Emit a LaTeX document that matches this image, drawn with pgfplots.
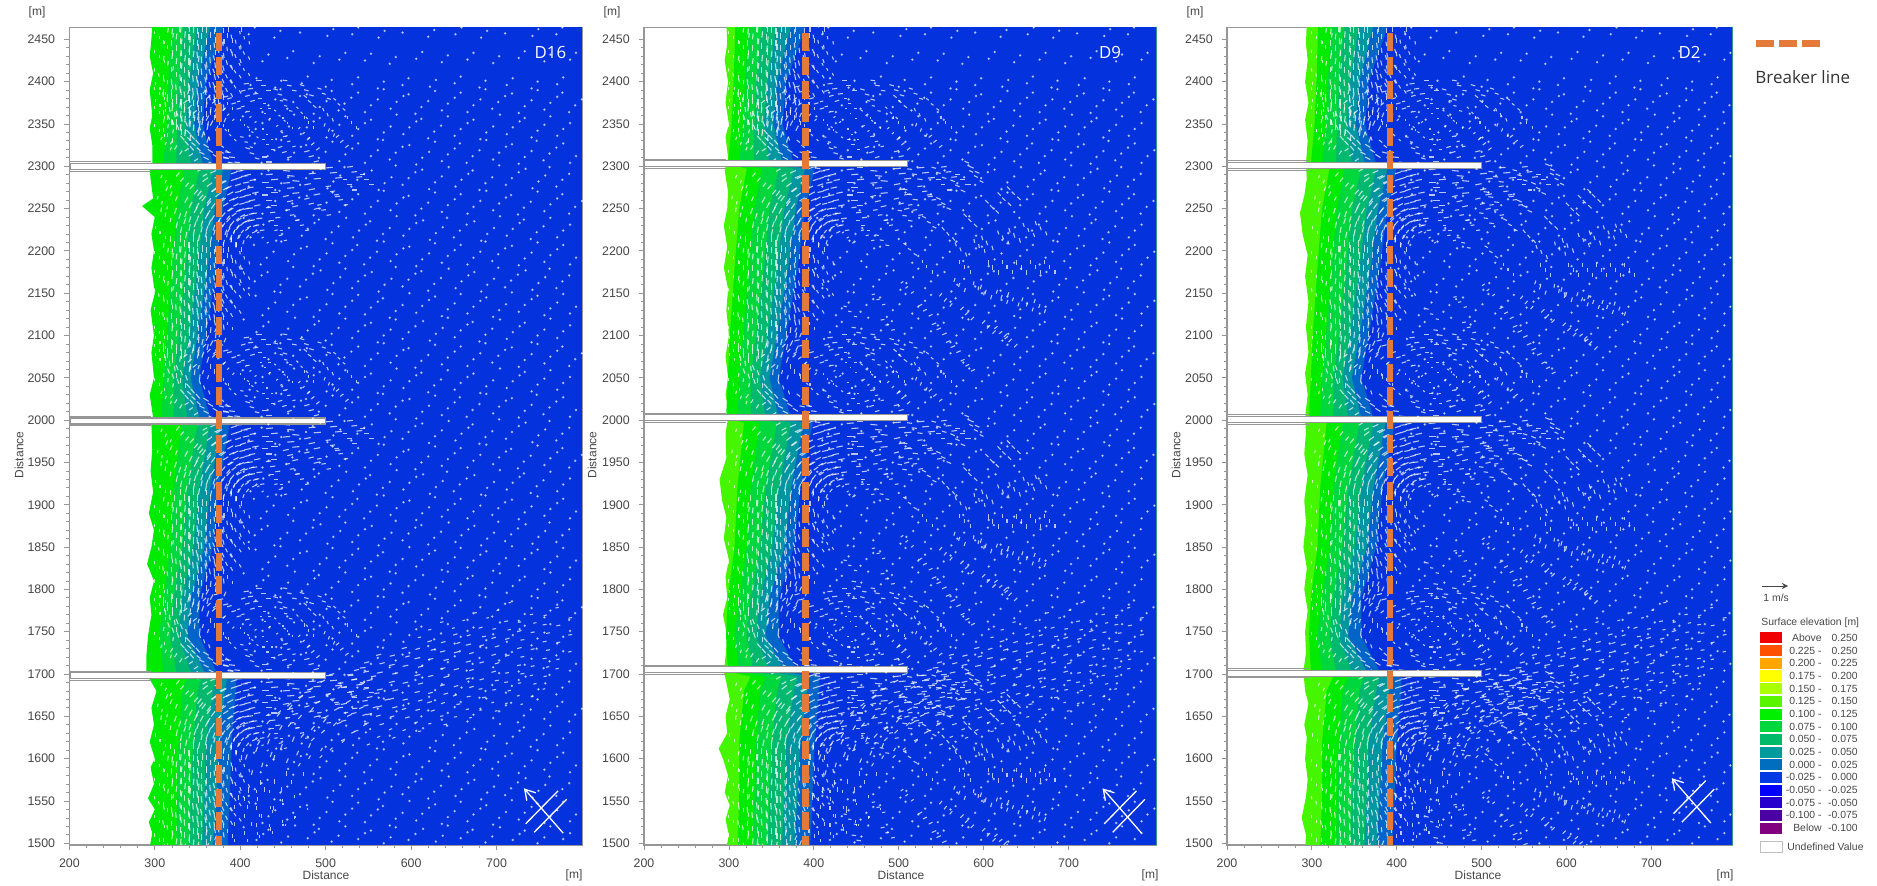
\documentclass[border=0pt]{standalone}
\usepackage{pgfplots}
\usepackage{pgfplotstable}
\usepackage{fontspec}
\usetikzlibrary{arrows.meta}
\setmainfont{Liberation Sans}
\newfontfamily\labelf{Open Sans}
\pgfplotsset{compat=1.18}
\definecolor{c100}{RGB}{0,235,0}
\definecolor{c125}{RGB}{70,245,0}
\definecolor{c075}{RGB}{0,215,60}
\definecolor{c050}{RGB}{0,185,110}
\definecolor{c025}{RGB}{0,150,160}
\definecolor{c000}{RGB}{0,100,200}
\definecolor{sea}{RGB}{4,50,220}
\definecolor{brk}{RGB}{228,122,58}
\definecolor{txt}{RGB}{70,70,70}
\definecolor{axg}{RGB}{150,150,150}
\pgfplotstableread{
y b0 b1 b2 b3 b4 b5
1490 900 900 900 900 900 900
1490 308 325 340 355 368 385
1560 310 326 342 358 372 388
1620 310 328 345 360 375 390
1680 315 332 350 368 382 395
1697 322 338 355 372 385 395
1703 298 310 325 342 358 372
1745 296 305 318 328 338 352
1790 298 310 322 332 342 352
1850 305 318 332 345 358 368
1920 308 322 338 352 365 375
1997 315 332 350 365 378 388
2003 296 308 322 338 352 365
2050 298 310 322 332 342 352
2100 300 314 328 340 350 360
2180 305 320 336 350 362 372
2250 310 326 342 358 370 380
2297 318 334 352 368 380 390
2303 298 310 325 342 356 368
2350 302 314 326 336 346 356
2400 304 316 328 340 350 360
2470 306 320 334 350 366 382
2470 900 900 900 900 900 900
}\bands
% flow below a groyne, y relative to the groyne
\pgfplotstableread{
x y u v
335 -95 0 10
340 -66 3 9
355 -41 6 8
377 -21 9 5
405 -11 10 2
430 -10 11 1
455 -11 11 -1
480 -9 11 1
505 -8 11 1
530 -7 9 1
350 -95 0 10
354 -71 3 9
366 -50 6 8
385 -34 9 5
408 -26 10 2
430 -25 11 0
455 -26 11 1
480 -28 10 2
505 -30 8 1
365 -95 0 9
368 -76 3 9
378 -60 6 7
392 -47 8 4
410 -41 10 2
430 -40 10 0
455 -42 9 2
480 -45 8 2
380 -95 0 8
382 -81 3 8
389 -69 5 6
400 -60 7 4
413 -56 9 1
435 -55 8 1
458 -58 7 1
323 -95 0 9
328 -62 3 9
346 -33 6 7
370 -14 9 4
395 -6 10 1
395 -95 0 7
397 -86 2 6
401 -79 4 5
408 -73 6 3
417 -70 7 1
440 -70 6 0
330 -79 2 10
340 -49 5 9
361 -24 8 6
389 -9 9 3
345 -82 2 10
353 -56 5 9
371 -36 8 6
394 -23 9 3
359 -84 2 9
366 -64 5 8
380 -47 8 5
399 -37 9 2
374 -87 2 8
379 -72 4 7
390 -59 7 5
404 -51 8 2
389 -90 1 7
392 -79 3 6
400 -70 5 4
409 -65 7 2
312 -60 1 7
318 -35 3 7
330 -18 5 6
350 -6 7 4
306 -80 0 5
308 -45 1 5
312 -20 2 5
425 -85 3 2
445 -82 5 1
470 -70 6 1
495 -52 7 1
515 -40 7 1
525 -22 7 0
545 -16 8 0
305 -110 0 5
305 -132 0 5
305 -154 -1 5
305 -176 0 5
305 -198 0 5
305 -220 0 5
315 -102 1 7
315 -122 0 7
315 -141 1 7
315 -163 0 7
315 -184 -1 7
315 -205 0 7
315 -226 0 7
325 -110 1 9
325 -124 0 9
325 -139 1 9
325 -155 0 9
325 -170 -1 9
325 -186 0 9
325 -201 1 9
325 -217 0 9
335 -108 1 10
335 -122 0 10
335 -136 1 10
335 -150 0 10
335 -165 -1 10
335 -179 -1 10
335 -194 0 10
335 -208 1 10
335 -224 1 10
345 -103 0 10
345 -117 0 10
345 -131 1 10
345 -146 0 10
345 -160 -1 10
345 -175 -1 10
345 -189 0 10
345 -203 1 10
345 -218 1 10
355 -110 0 10
355 -124 0 10
355 -138 -1 10
355 -152 -1 10
355 -167 -2 10
355 -181 -1 10
355 -196 0 10
355 -211 2 9
355 -226 3 9
365 -108 0 9
365 -123 0 9
365 -138 -1 9
365 -152 -2 9
365 -167 -2 9
365 -182 -2 9
365 -197 1 9
365 -212 4 8
375 -110 0 8
375 -126 -1 8
375 -141 -2 8
375 -156 -3 7
375 -172 -3 7
375 -187 -1 8
375 -202 3 7
385 -108 0 7
385 -124 -1 7
385 -140 -2 7
385 -156 -3 6
385 -172 -3 6
385 -188 0 6
395 -115 -1 6
395 -132 -2 6
395 -150 -3 5
395 -168 -3 5
405 -110 -1 5
405 -128 -2 5
405 -147 -2 4
}\below
% flow above a groyne: recirculation cell
\pgfplotstableread{
x y u v
530 50 0 5
517 72 -4 3
480 89 -7 2
430 95 -8 0
380 89 -8 -2
343 72 -6 -5
330 50 0 -8
343 28 6 -5
380 11 8 -2
430 5 9 0
480 11 8 2
517 28 5 4
503 59 -2 5
483 75 -5 4
449 84 -7 2
411 84 -7 -2
377 75 -5 -4
357 59 -2 -6
357 41 2 -6
377 25 5 -4
411 16 7 -2
449 16 7 2
483 25 5 4
503 41 2 5
480 50 0 5
473 62 -3 3
455 71 -5 1
430 74 -5 0
405 71 -5 -1
387 62 -3 -3
380 50 0 -5
387 38 3 -3
405 29 5 -1
430 26 5 0
455 29 5 1
473 38 3 3
455 50 0 3
447 59 -3 2
430 62 -3 0
413 59 -3 -2
405 50 0 -3
413 41 3 -2
430 38 3 0
447 41 3 2
315 85 0 -9
320 55 3 -8
335 30 6 -7
357 11 8 -4
385 4 9 -1
325 85 0 -9
330 59 3 -8
342 37 6 -7
362 20 8 -5
387 11 9 -1
305 40 0 5
306 70 0 5
306 90 0 5
312 25 2 5
315 45 1 6
323 20 4 6
335 70 -1 -9
345 85 -2 -8
347 60 -1 -9
340 12 6 4
317 70 1 -8
365 84 -5 -5
370 60 0 -7
395 75 -7 -2
415 92 -8 -1
460 95 -7 1
500 85 -6 2
}\above
% wider cells of the D9 and D2 runs
\pgfplotstableread{
x y u v
494 -12 8 -1
540 -25 7 -3
577 -49 5 -5
602 -82 2 -7
610 -120 0 -7
602 -158 -2 -6
577 -191 -5 -5
540 -215 -7 -3
489 -36 8 -1
525 -46 7 -3
554 -65 5 -5
573 -91 2 -7
580 -120 0 -7
573 -149 -2 -7
554 -175 -5 -5
525 -194 -7 -3
555 -3 7 -3
600 -33 5 -5
630 -74 2 -6
640 -120 0 -6
630 -166 -2 -6
600 -207 -5 -5
555 -237 -6 -3
484 -61 7 -1
510 -68 6 -3
531 -81 4 -5
545 -99 2 -6
550 -120 0 -6
545 -141 -2 -6
531 -159 -4 -5
510 -172 -6 -3
520 -10 7 -2
560 -14 6 -3
590 -40 5 -5
617 -76 2 -6
625 -120 0 -6
617 -164 -2 -6
590 -198 -5 -4
565 -95 1 -6
565 -145 -1 -6
595 -120 0 -6
590 -85 2 -6
590 -155 -2 -6
460 -90 6 -1
490 -100 5 -3
510 -120 0 -5
490 -145 -4 -3
460 -160 -5 -1
430 -175 -5 1
470 -190 -6 -1
440 -200 -7 1
}\bigcell
% jet off the southern groyne, absolute position
\pgfplotstableread{
x y u v
440 1570 0 8
447 1611 3 8
468 1647 5 6
500 1674 7 4
539 1688 8 1
460 1570 0 7
466 1604 3 7
483 1634 5 6
510 1657 7 4
543 1668 8 1
410 1560 0 8
418 1608 3 8
443 1650 5 6
480 1681 7 4
526 1698 9 1
425 1530 0 6
425 1590 2 7
432 1625 4 7
455 1662 6 5
490 1690 8 2
480 1600 3 5
495 1630 5 5
525 1650 7 3
555 1660 7 2
505 1610 4 4
530 1630 6 3
405 1510 0 6
405 1530 0 6
405 1550 0 6
420 1510 0 5
420 1550 0 6
435 1515 0 5
435 1540 0 5
450 1520 0 4
450 1545 0 4
465 1530 0 3
530 1693 9 2
560 1701 9 2
590 1709 9 2
620 1717 8 2
650 1725 8 2
680 1733 7 2
710 1741 7 2
740 1749 6 1
770 1757 6 1
530 1673 9 2
560 1681 9 2
590 1689 9 2
620 1697 8 2
650 1705 8 2
680 1713 7 2
710 1721 7 2
740 1729 6 1
770 1737 6 1
530 1653 8 2
560 1661 8 2
590 1669 8 2
620 1677 7 2
650 1685 7 2
680 1693 7 2
710 1701 6 1
740 1709 6 1
770 1717 5 1
545 1641 7 2
575 1649 7 2
605 1657 7 2
635 1665 6 2
665 1673 6 1
695 1681 6 1
725 1689 5 1
755 1697 5 1
560 1625 5 2
590 1633 5 2
620 1641 5 1
650 1649 5 1
680 1657 4 1
710 1665 4 1
740 1673 4 1
545 1713 8 2
575 1721 8 2
605 1729 7 2
635 1737 7 2
665 1745 6 2
695 1753 6 1
725 1761 5 1
755 1769 5 1
620 1752 5 1
660 1763 4 1
700 1775 4 1
}\jet
\pgfplotstableread{
x y
412 6
441 3
472 8
500 4
531 7
561 2
590 6
622 4
651 8
680 3
712 6
741 2
771 7
426 34
455 38
486 32
516 36
546 35
575 31
606 37
636 33
666 36
696 32
726 38
756 34
786 36
410 66
440 62
470 68
502 64
531 66
562 62
590 68
620 63
652 66
682 62
710 67
742 64
770 66
424 94
456 98
486 92
516 96
545 94
576 98
606 92
636 96
666 94
695 98
726 93
756 97
786 94
412 126
442 122
472 128
500 124
532 126
560 122
591 128
622 123
650 126
682 122
712 128
740 124
771 126
426 154
454 158
486 152
516 156
546 154
576 158
605 152
636 156
666 154
696 158
725 153
756 157
785 154
410 186
441 182
470 188
502 184
530 186
562 182
590 188
621 183
652 186
680 182
711 188
742 184
770 186
425 214
456 218
485 212
516 216
546 214
575 218
606 212
636 216
665 214
696 218
726 213
755 217
786 214
411 246
442 242
471 248
501 244
531 246
561 242
591 248
620 243
651 246
681 242
712 248
741 244
771 246
426 274
455 278
486 272
515 276
546 274
576 278
605 272
636 276
666 274
695 278
726 273
756 277
785 274
}\seadots
\pgfplotsset{fieldst/.style={white,opacity=.72,line width=.55pt,forget plot}}
\newcommand{\fldo}[4]{\addplot[fieldst,quiver={u=0.75*\thisrow{u},v=0.75*\thisrow{v}}] table[x expr={300+(\thisrow{x}+#3-300)*\fct},y expr={\thisrow{y}+#2+#4}]{#1};}
\newcommand{\fld}[2]{\fldo{#1}{#2}{0}{0}\fldo{#1}{#2}{6}{-6}\fldo{#1}{#2}{-5}{6}}
\newcommand{\band}[2]{\addplot[fill=#2,draw=none,forget plot] table[x expr={290+(\thisrow{#1}-290)*\fct},y=y]{\bands};}
\newcommand{\dts}[2]{\addplot[only marks,mark=*,mark size=.42pt,white,opacity=.5,mark options={draw=none,fill=white},forget plot] table[x expr={\thisrow{x}+#1},y expr={\thisrow{y}+#2}]{\seadots};}
\newcommand{\dtsq}[1]{\dts{0}{#1}\dts{15}{#1+15}\dts{7}{#1+8}\dts{-8}{#1+23}}
\newcommand{\allbands}{\band{b1}{c075}\band{b2}{c050}\band{b3}{c025}\band{b4}{c000}\band{b5}{sea}}
\newcommand{\jetp}[2]{\addplot[fieldst,quiver={u=0.75*\thisrow{u},v=0.75*\thisrow{v}}] table[x expr={\thisrow{x}+#1},y expr={\thisrow{y}+#2}]{\jet};}
\newcommand{\allfield}{%
\dtsq{1490}\dtsq{1790}\dtsq{2090}\dts{0}{2390}\dts{7}{2398}%
\fld{\below}{1700}\fld{\below}{2000}\fld{\below}{2300}\fld{\below}{2560}%
\fld{\above}{1700}\fld{\above}{2000}\fld{\above}{2300}%
\jetp{0}{0}\jetp{14}{9}\jetp{-12}{-9}}
\newcommand{\groyne}[2]{%
\addplot[fill=white,draw=axg,line width=.6pt,forget plot] coordinates {(201,#1-3.6)(#2,#1-3.6)(#2,#1+3.6)(201,#1+3.6)} -- cycle;
\addplot[draw=axg,line width=.4pt,forget plot] coordinates {(201,#1-5.5)(296,#1-5.5)};
\addplot[draw=axg,line width=.4pt,forget plot] coordinates {(201,#1+5.5)(296,#1+5.5)};}
\newcommand{\breaker}[1]{\addplot[brk,line width=3.4pt,dash pattern=on 9pt off 2.8pt,forget plot] coordinates {(#1,2457)(#1,1498)};}
\newcommand{\wave}[2]{%
\addplot[white,line width=.65pt,-{Straight Barb[length=5pt,width=6pt]},forget plot] coordinates {(778+#1,1512+#2)(732+#1,1565+#2)};
\addplot[white,line width=.65pt,forget plot] coordinates {(734+#1,1523+#2)(772+#1,1562+#2)};
\addplot[white,line width=.65pt,forget plot] coordinates {(744+#1,1513+#2)(782+#1,1552+#2)};}
\newcommand{\tickf}{\fontsize{6.2}{7}\selectfont\color{txt}}
\pgfplotsset{panel/.style={
 anchor=south west,scale only axis,height=408.75pt,
 xmin=200,ymin=1498,ymax=2464,
 xtick={200,300,...,700},ytick={1500,1550,...,2450},
 minor x tick num=4,minor y tick num=4,
 xtick pos=bottom,ytick pos=left,tick align=outside,
 major tick length=2.6pt,minor tick length=1.5pt,
 every tick/.style={axg,line width=.4pt},
 axis line style={axg,line width=.7pt},
 tick label style={font=\tickf},
 xticklabel style={yshift=-1pt},
 yticklabel style={xshift=-1pt},
 /pgf/number format/assume math mode=true,
 /pgf/number format/1000 sep={},
}}
\begin{document}
\begin{tikzpicture}
\path (0,0) rectangle (938.5pt,443pt);
% ---------- D16
\def\fct{1}
\begin{axis}[panel,at={(34.7pt,20.5pt)},width=256.3pt,xmax=800]
\addplot[fill=c100,draw=none,forget plot] coordinates {(900,1490)(293,1490)(297,1512)(293,1525)(300,1540)(292,1553)(299,1570)(295,1590)(300,1600)(294,1620)(299,1640)(296,1660)(302,1680)(292,1697)(290,1703)(290,1720)(292,1745)(296,1770)(294,1790)(299,1810)(291,1830)(296,1850)(299,1870)(293,1890)(298,1915)(295,1940)(297,1965)(296,1995)(298,2003)(294,2030)(299,2050)(296,2080)(299,2100)(295,2130)(300,2150)(296,2180)(299,2200)(296,2220)(300,2240)(285,2253)(298,2262)(295,2285)(294,2297)(297,2303)(297,2325)(294,2345)(297,2360)(294,2390)(298,2410)(294,2430)(296,2450)(297,2470)(900,2470)} -- cycle;
\allbands
\allfield
\groyne{1698}{500}\groyne{1999}{500}\groyne{2300}{500}
\breaker{375}
\wave{0}{0}
\node[text=white,font=\labelf\fontsize{8.4}{10}\selectfont] at (axis cs:763,2435) {D16};
\end{axis}
% ---------- D9
\def\fct{1.11}
\begin{axis}[panel,at={(322pt,20.5pt)},width=256pt,xmax=803]
\addplot[fill=c125,draw=none,forget plot] coordinates {(900,1490)(296,1490)(300,1510)(296,1528)(301,1545)(295,1560)(299,1580)(293,1600)(288,1612)(298,1630)(296,1650)(301,1670)(297,1690)(294,1703)(296,1720)(298,1745)(293,1770)(298,1790)(296,1815)(300,1835)(294,1860)(297,1885)(292,1905)(289,1930)(297,1955)(296,1985)(300,2008)(296,2030)(299,2050)(296,2075)(300,2100)(297,2130)(299,2155)(294,2180)(298,2205)(294,2230)(298,2250)(299,2270)(295,2295)(299,2310)(296,2335)(300,2350)(296,2375)(299,2400)(295,2425)(298,2445)(297,2470)(900,2470)} -- cycle;
\band{b0}{c100}
\allbands
\allfield
\fld{\bigcell}{1703}\fld{\bigcell}{2003}\fld{\bigcell}{2303}
\groyne{1705}{510}\groyne{2003}{510}\groyne{2303}{510}
\breaker{390}
\wave{8}{0}
\node[text=white,font=\labelf\fontsize{8.4}{10}\selectfont] at (axis cs:749,2435) {D9};
\end{axis}
% ---------- D2
\def\fct{1.1}
\begin{axis}[panel,at={(613.5pt,20.5pt)},width=252.5pt,xmax=795]
\addplot[fill=c125,draw=none,forget plot] coordinates {(900,1490)(292,1490)(293,1510)(288,1530)(293,1555)(295,1575)(292,1600)(294,1625)(291,1640)(296,1665)(292,1680)(290,1703)(293,1725)(292,1750)(295,1775)(291,1800)(294,1825)(290,1850)(293,1880)(291,1905)(295,1935)(291,1960)(293,1985)(292,2003)(295,2030)(292,2055)(296,2080)(293,2110)(296,2140)(292,2170)(295,2195)(289,2220)(286,2245)(291,2265)(294,2285)(293,2303)(295,2330)(292,2355)(296,2375)(292,2400)(295,2425)(293,2445)(294,2470)(900,2470)} -- cycle;
\band{b0}{c100}
\allbands
\allfield
\fld{\bigcell}{1700}\fld{\bigcell}{2000}\fld{\bigcell}{2300}
\groyne{1701}{500}\groyne{2001}{500}\groyne{2301}{500}
\breaker{392}
\wave{-8}{12}
\node[text=white,font=\labelf\fontsize{8.4}{10}\selectfont] at (axis cs:745,2435) {D2};
\end{axis}
% ---------- labels and legend, in pixels of the reference
\begin{scope}[x=0.5pt,y=-0.5pt,yshift=443pt,every node/.style={text=txt,font=\fontsize{6.0}{7}\selectfont,inner sep=0pt}]
\node at (37,12) {[m]}; \node at (612,12) {[m]}; \node at (1195,12) {[m]};
\node[rotate=90] at (19,455) {Distance}; \node[rotate=90] at (592,455) {Distance}; \node[rotate=90] at (1176,455) {Distance};
\node at (326,875) {Distance}; \node at (901,875) {Distance}; \node at (1478,875) {Distance};
\node at (574,875) {[m]}; \node at (1150,875) {[m]}; \node at (1725,875) {[m]};
\fill[brk] (1756,40) rectangle (1774,47);
\fill[brk] (1779,40) rectangle (1797,47);
\fill[brk] (1802,40) rectangle (1820,47);
\node[anchor=west,font=\labelf\fontsize{8.5}{10}\selectfont,text=black!80] at (1755,77) {Breaker line};
\draw[txt,line width=.4pt,->,>=stealth] (1762,586) -- (1788,586);
\node[anchor=west,font=\fontsize{5.2}{6}\selectfont] at (1763,598) {1 m/s};
\node[anchor=west,font=\fontsize{5.2}{6}\selectfont] at (1761,623) {Surface elevation [m]};
\foreach \i/\c/\a/\b in {
0/{240,0,0}/Above\hspace{2.5pt}/0.250,
1/{255,80,0}/0.225 -/0.250,
2/{255,165,0}/0.200 -/0.225,
3/{255,255,0}/0.175 -/0.200,
4/{170,255,0}/0.150 -/0.175,
5/{90,245,0}/0.125 -/0.150,
6/{0,240,0}/0.100 -/0.125,
7/{0,215,60}/0.075 -/0.100,
8/{0,185,105}/0.050 -/0.075,
9/{0,155,155}/0.025 -/0.050,
10/{0,110,190}/0.000 -/0.025,
11/{0,60,225}/-0.025 -/0.000,
12/{0,0,255}/-0.050 -/-0.025,
13/{40,0,205}/-0.075 -/-0.050,
14/{75,0,165}/-0.100 -/-0.075,
15/{128,0,128}/Below\hspace{2.5pt}/-0.100}{
 \definecolor{tmp}{RGB}{\c}
 \pgfmathsetmacro{\yy}{638+12.67*\i}
 \fill[tmp] (1760,\yy-5.5) rectangle (1782,\yy+5.5);
 \node[anchor=east,font=\fontsize{5.2}{6}\selectfont] at (1822,\yy) {\a};
 \node[anchor=east,font=\fontsize{5.2}{6}\selectfont] at (1858,\yy) {\b};
}
\draw[black!25,line width=.4pt,fill=white] (1760,841.2) rectangle (1782,852.2);
\node[anchor=west,font=\fontsize{5.2}{6}\selectfont] at (1787,846.7) {Undefined Value};
\end{scope}
\end{tikzpicture}
\end{document}
